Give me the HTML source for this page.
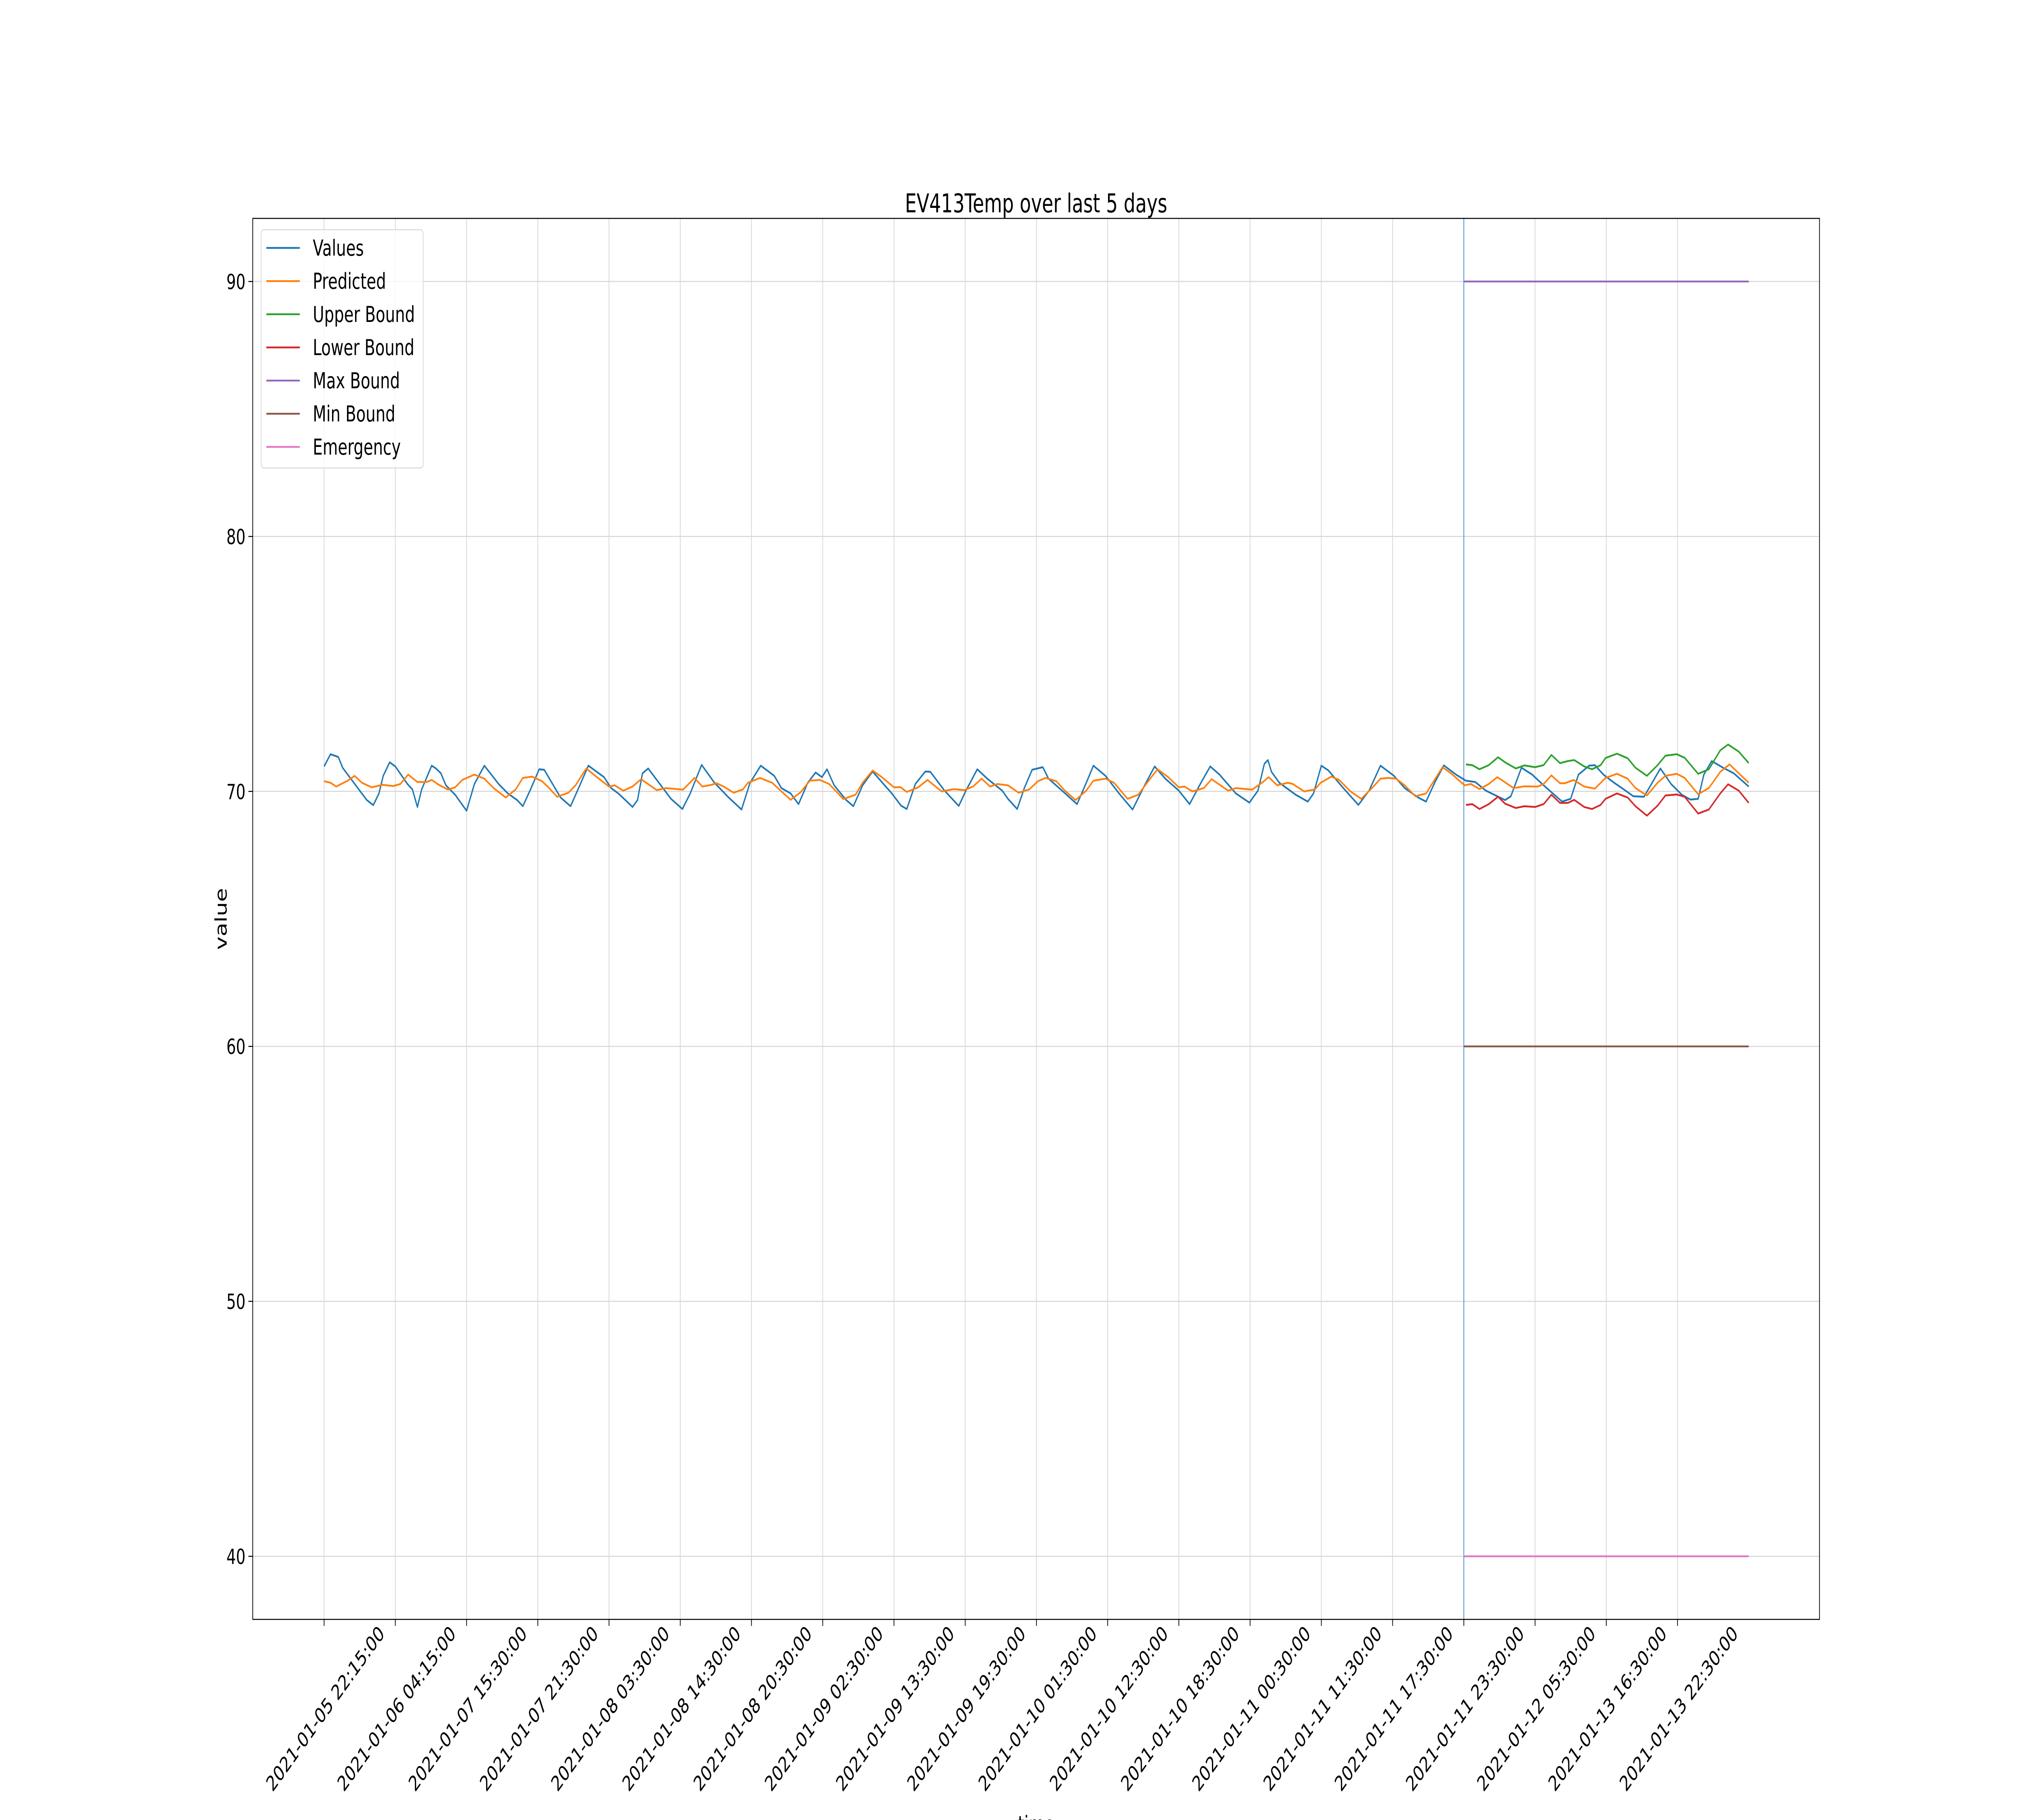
<!DOCTYPE html>
<html><head><meta charset="utf-8"><style>
html,body{margin:0;padding:0;background:#fff;width:100vw;height:100vh;overflow:hidden;}
svg{display:block;width:100vw;height:100vh;font-family:"DejaVu Sans","Liberation Sans",sans-serif;}
</style></head><body>
<svg id="chart" viewBox="0 0 7000 4500" preserveAspectRatio="none" xmlns="http://www.w3.org/2000/svg">
<rect x="0" y="0" width="7000" height="4500" fill="#fff"/>
<g id="grid"></g>
<g id="series"></g>
<rect x="875" y="540" width="5424" height="3464" fill="none" stroke="#000" stroke-width="2.5"/>
<g id="ticks"></g>
<text x="3587" y="525" font-size="64" text-anchor="middle">EV413Temp over last 5 days</text>
<text x="0" y="0" font-size="56" text-anchor="middle" transform="translate(785,2272) rotate(-90)">value</text>
<text x="3587" y="4530" font-size="56" text-anchor="middle">time</text>
<g id="legend"></g>
</svg>
<script>
const tickLabels = ["2021-01-05 22:15:00","2021-01-06 04:15:00","2021-01-07 15:30:00","2021-01-07 21:30:00","2021-01-08 03:30:00","2021-01-08 14:30:00","2021-01-08 20:30:00","2021-01-09 02:30:00","2021-01-09 13:30:00","2021-01-09 19:30:00","2021-01-10 01:30:00","2021-01-10 12:30:00","2021-01-10 18:30:00","2021-01-11 00:30:00","2021-01-11 11:30:00","2021-01-11 17:30:00","2021-01-11 23:30:00","2021-01-12 05:30:00","2021-01-13 16:30:00","2021-01-13 22:30:00"];
const yTicks = [40,50,60,70,80,90];
const valueT = [0,0.09,0.20,0.26,0.50,0.60,0.69,0.77,0.83,0.92,1.00,1.17,1.24,1.31,1.37,1.51,1.57,1.64,1.71,1.84,2.00,2.11,2.25,2.45,2.58,2.71,2.79,2.89,3.02,3.09,3.32,3.46,3.59,3.71,3.93,4.03,4.13,4.23,4.33,4.40,4.47,4.55,4.70,4.87,5.03,5.14,5.30,5.48,5.68,5.86,5.98,6.13,6.32,6.42,6.55,6.66,6.79,6.90,6.99,7.06,7.16,7.33,7.43,7.56,7.70,7.97,8.10,8.18,8.30,8.44,8.51,8.71,8.91,9.01,9.17,9.31,9.52,9.60,9.73,9.83,9.94,10.09,10.17,10.36,10.57,10.70,10.80,10.97,11.16,11.35,11.51,11.66,11.81,12.00,12.15,12.31,12.44,12.57,12.80,12.99,13.11,13.20,13.25,13.30,13.41,13.64,13.81,13.89,14.00,14.10,14.29,14.52,14.67,14.83,15.02,15.17,15.36,15.47,15.59,15.72,15.89,16.03,16.16,16.31,16.47,16.58,16.66,16.81,16.96,17.12,17.38,17.50,17.61,17.76,17.84,17.96,18.11,18.22,18.38,18.53,18.76,18.91,19.06,19.18,19.29,19.37,19.48,19.64,19.79,20.0];
const values = [70.98,71.46,71.35,70.93,70.03,69.66,69.46,69.92,70.61,71.14,70.98,70.29,70.08,69.39,70.08,71.01,70.90,70.71,70.24,69.87,69.24,70.29,71.01,70.29,69.92,69.66,69.42,70.03,70.87,70.85,69.76,69.42,70.24,71.01,70.56,70.13,69.92,69.66,69.39,69.66,70.71,70.90,70.34,69.71,69.31,69.92,71.04,70.34,69.76,69.29,70.34,71.01,70.61,70.13,69.92,69.50,70.34,70.74,70.56,70.87,70.24,69.66,69.42,70.24,70.78,69.92,69.44,69.31,70.29,70.78,70.77,70.03,69.43,70.03,70.87,70.50,70.03,69.71,69.31,70.13,70.85,70.95,70.50,70.03,69.50,70.34,71.01,70.61,69.92,69.29,70.19,70.98,70.50,70.03,69.50,70.34,70.98,70.66,69.92,69.56,70.03,71.08,71.23,70.77,70.34,69.87,69.60,69.92,71.01,70.82,70.19,69.47,70.03,71.01,70.61,70.13,69.76,69.60,70.34,71.02,70.66,70.42,70.37,70.03,69.81,69.66,69.81,70.93,70.66,70.24,69.60,69.71,70.66,71.01,71.03,70.66,70.34,70.13,69.81,69.79,70.90,70.29,69.87,69.68,69.71,70.66,71.19,70.93,70.71,70.19];
const predT = [0,0.09,0.17,0.33,0.43,0.53,0.67,0.82,0.97,1.07,1.18,1.31,1.44,1.51,1.61,1.74,1.84,1.94,2.11,2.25,2.38,2.55,2.69,2.79,2.92,3.06,3.16,3.27,3.43,3.53,3.68,3.83,4.00,4.08,4.20,4.33,4.45,4.67,4.80,5.04,5.20,5.31,5.44,5.51,5.61,5.75,5.88,5.95,6.12,6.29,6.39,6.55,6.69,6.82,6.96,7.09,7.29,7.46,7.56,7.70,7.83,8.00,8.09,8.18,8.34,8.47,8.67,8.84,8.99,9.11,9.23,9.35,9.45,9.60,9.75,9.90,10.02,10.13,10.28,10.40,10.55,10.70,10.80,10.97,11.09,11.28,11.43,11.54,11.70,11.85,12.00,12.08,12.19,12.35,12.46,12.69,12.80,13.03,13.18,13.26,13.38,13.53,13.60,13.76,13.91,13.99,14.14,14.25,14.41,14.56,14.71,14.83,14.94,15.05,15.17,15.32,15.47,15.70,15.82,16.01,16.10,16.22,16.35,16.47,16.70,16.85,17.04,17.12,17.23,17.35,17.42,17.54,17.69,17.84,17.99,18.15,18.30,18.41,18.57,18.72,18.83,18.99,19.10,19.29,19.44,19.60,19.73,19.86,20.0];
const predicted = [70.40,70.34,70.19,70.42,70.61,70.34,70.16,70.26,70.21,70.29,70.66,70.37,70.37,70.45,70.26,70.07,70.16,70.45,70.66,70.50,70.13,69.76,70.08,70.53,70.58,70.40,70.13,69.79,69.95,70.24,70.90,70.56,70.19,70.24,70.03,70.19,70.48,70.05,70.13,70.07,70.53,70.19,70.26,70.32,70.19,69.95,70.08,70.34,70.53,70.34,70.08,69.67,69.97,70.42,70.45,70.29,69.70,69.87,70.34,70.82,70.56,70.16,70.17,69.98,70.16,70.45,70.00,70.09,70.05,70.19,70.50,70.19,70.29,70.24,69.95,70.08,70.40,70.53,70.40,70.03,69.66,70.03,70.42,70.50,70.34,69.71,69.87,70.29,70.87,70.56,70.16,70.19,70.00,70.13,70.48,70.03,70.13,70.07,70.37,70.56,70.24,70.34,70.29,70.00,70.08,70.34,70.58,70.45,70.00,69.71,70.13,70.50,70.53,70.50,70.24,69.81,69.92,70.95,70.71,70.24,70.29,70.09,70.29,70.56,70.13,70.20,70.19,70.29,70.63,70.32,70.32,70.45,70.19,70.11,70.53,70.69,70.50,70.13,69.84,70.34,70.61,70.69,70.53,69.89,70.13,70.77,71.06,70.71,70.34];
const boundT = [16.03,16.12,16.22,16.35,16.48,16.58,16.73,16.85,17.00,17.12,17.23,17.35,17.46,17.55,17.69,17.80,17.92,17.99,18.15,18.30,18.41,18.57,18.72,18.83,18.99,19.10,19.29,19.44,19.60,19.71,19.86,20.0];
const upperBound = [71.06,71.03,70.87,71.03,71.34,71.14,70.90,71.02,70.95,71.03,71.43,71.11,71.19,71.23,70.98,70.87,71.03,71.31,71.48,71.30,70.93,70.61,71.03,71.40,71.46,71.32,70.69,70.87,71.61,71.84,71.56,71.11];
const lowerBound = [69.47,69.50,69.31,69.50,69.79,69.52,69.35,69.42,69.39,69.50,69.87,69.55,69.55,69.67,69.39,69.31,69.47,69.71,69.92,69.76,69.42,69.05,69.44,69.84,69.88,69.79,69.13,69.29,69.92,70.28,70.03,69.55];
const limitT = [16, 20];
const maxBound = [90, 90];
const minBound = [60, 60];
const emergency = [40, 40];
const forecastStart = [16];

const NS = "http://www.w3.org/2000/svg";
const X0 = 1122, XS = 246.6;
const Y90 = 696, YS = 63.04;
function xS(t){ return X0 + t*XS; }
function yS(v){ return Y90 + (90 - v)*YS; }
function mk(tag, attrs, parent){
  const e = document.createElementNS(NS, tag);
  for (const k in attrs) e.setAttribute(k, attrs[k]);
  parent.appendChild(e);
  return e;
}
const grid = document.getElementById('grid');
const ticks = document.getElementById('ticks');
tickLabels.forEach((lab, i) => {
  const x = xS(i);
  const g = mk('line', {x1:x, x2:x, y1:540, y2:4004, stroke:'#d6d6d6', 'stroke-width':2.5}, grid);
  
  
  const tk = mk('line', {x1:x, x2:x, y1:4004, y2:4020, stroke:'#000', 'stroke-width':2.5}, ticks);
  
  
  const t = mk('text', {x:0, y:0, 'font-size':52, 'text-anchor':'end', transform:`translate(${x+212},${4042}) rotate(-45)`}, ticks);
  
  
  t.textContent = lab;
});
yTicks.forEach(v => {
  const y = yS(v);
  const g = mk('line', {x1:875, x2:6299, y1:y, y2:y, stroke:'#d6d6d6', 'stroke-width':2.5}, grid);
  
  
  const tk = mk('line', {x1:860, x2:875, y1:y, y2:y, stroke:'#000', 'stroke-width':2.5}, ticks);
  
  
  const t = mk('text', {x:850, y:y+19, 'font-size':52, 'text-anchor':'end'}, ticks);
  
  
  t.textContent = String(v);
});
const series = document.getElementById('series');
function line(ts, vs, color, name){
  const d = ts.map((t,i) => (i?'L':'M') + xS(t).toFixed(1) + ' ' + yS(vs[i]).toFixed(1)).join(' ');
  const p = mk('path', {d:d, fill:'none', stroke:color, 'stroke-width':4.5, 'stroke-linejoin':'round'}, series);
  
  
}
const vl = mk('line', {x1:xS(forecastStart[0]), x2:xS(forecastStart[0]), y1:540, y2:4004, stroke:'#5d9bd0', 'stroke-width':3}, series);


line(valueT, values, '#1f77b4', 'values-line');
line(predT, predicted, '#ff7f0e', 'predicted-line');
line(boundT, upperBound, '#2ca02c', 'upper-bound-line');
line(boundT, lowerBound, '#d62728', 'lower-bound-line');
line(limitT, maxBound, '#9467bd', 'max-bound-line');
line(limitT, minBound, '#8c564b', 'min-bound-line');
line(limitT, emergency, '#e377c2', 'emergency-line');

const legend = document.getElementById('legend');
const box = mk('rect', {x:904, y:568, width:561, height:589, rx:10, fill:'#fff', 'fill-opacity':0.8, stroke:'#d8d8d8', 'stroke-width':2.5}, legend);


const legNames = ['Values','Predicted','Upper Bound','Lower Bound','Max Bound','Min Bound','Emergency'];
const legColors = ['#1f77b4','#ff7f0e','#2ca02c','#d62728','#9467bd','#8c564b','#e377c2'];
legNames.forEach((n, i) => {
  const y = 613 + i*82;
  const l = mk('line', {x1:922, x2:1038, y1:y, y2:y, stroke:legColors[i], 'stroke-width':4.5}, legend);
  
  
  const t = mk('text', {x:1083, y:y+19, 'font-size':54}, legend);
  
  
  t.textContent = n;
});
</script>
</body></html>
